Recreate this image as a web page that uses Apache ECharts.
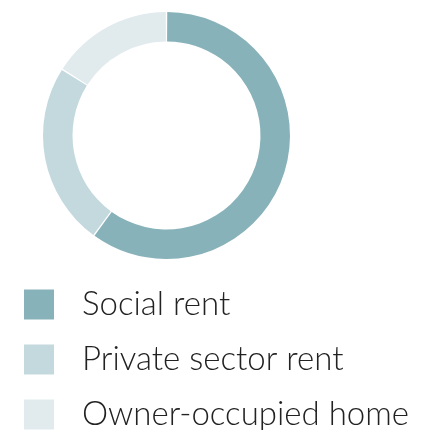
<!DOCTYPE html>
<html>
<head>
<meta charset="utf-8">
<script src="https://cdn.jsdelivr.net/npm/echarts@6/dist/echarts.min.js"></script>
<style>
  html, body { margin: 0; padding: 0; background: #fff; }
  #chart { width: 432px; height: 430px; }
</style>
</head>
<body>
<div id="chart"></div>
<script>
// Housing tenure shares (percent)
const categories = ['Social rent', 'Private sector rent', 'Owner-occupied home'];
const shares = [60, 24, 16];
const colors = ['#87b2b9', '#c4d9de', '#e1ebee'];

const chart = echarts.init(document.getElementById('chart'));

chart.setOption({
  animation: false,
  color: colors,
  legend: {
    orient: 'vertical',
    left: 24,
    top: 288,
    height: 200,
    padding: 0,
    itemWidth: 30,
    itemHeight: 30,
    itemGap: 22,
    icon: 'rect',
    data: categories,
    textStyle: {
      fontFamily: 'Lato',
      fontWeight: 300,
      fontSize: 33,
      lineHeight: 30,
      color: '#222222',
      padding: [0, 0, 0, 23]
    }
  },
  series: [{
    type: 'pie',
    center: [166.5, 135.5],
    radius: [94, 123.5],
    startAngle: 90,
    clockwise: true,
    padAngle: 0.7,
    label: { show: false },
    labelLine: { show: false },
    emphasis: { disabled: true },
    data: categories.map((name, i) => ({ name, value: shares[i] }))
  }]
});
</script>
</body>
</html>
